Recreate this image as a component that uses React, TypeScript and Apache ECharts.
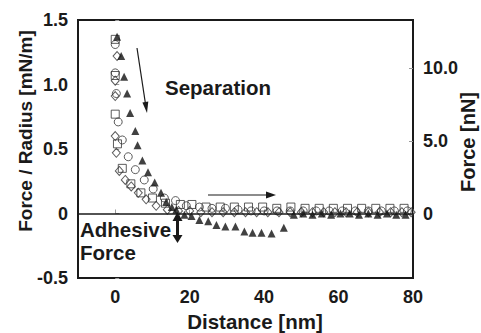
import React, { useEffect, useRef } from "react";
import * as echarts from "echarts";

const xTicks = [0, 20, 40, 60, 80];
const leftTicks = [-0.5, 0, 0.5, 1.0, 1.5];
const rightTicks = [0, 5, 10];

const triangles: [number, number][] = [
  [0.5, 1.37], [1.6, 1.22], [2.4, 1.06], [3.2, 0.93], [4.0, 0.78], [5.4, 0.64],
  [6.0, 0.53], [7.3, 0.41], [8.8, 0.32], [10.6, 0.24], [12.3, 0.16], [13.7, 0.09],
  [15.2, 0.05], [16.4, 0.03], [18.6, -0.01], [20.5, -0.02], [22.6, -0.05], [25.0, -0.06],
  [27.2, -0.09], [29.6, -0.1], [32.3, -0.1], [34.7, -0.14], [36.9, -0.15], [39.3, -0.15],
  [42.0, -0.155], [45.3, -0.11], [48.0, -0.01], [50.5, 0], [53.0, -0.01], [55.5, 0],
  [58.0, -0.01], [60.5, 0], [63.0, 0], [65.5, -0.01], [68.0, 0], [70.5, -0.01],
  [73.0, 0], [75.5, -0.01], [78.0, -0.01],
];

const circles: [number, number][] = [
  [0, 1.31], [0, 1.09], [0.3, 0.93], [0.8, 0.71], [1.9, 0.57], [3.5, 0.44], [5.4, 0.34],
  [7.8, 0.26], [10.2, 0.19], [13.2, 0.12], [16.2, 0.1], [19.1, 0.06], [22.6, 0.05],
  [26.0, 0.04], [29.6, 0.04], [33.0, 0.03], [36.5, 0.02], [40.0, 0.02], [43.5, 0.02],
  [47.0, 0.02], [50.5, 0.02], [54.0, 0.02], [57.5, 0.02], [61.0, 0.02], [64.5, 0.02],
  [68.0, 0.02], [71.5, 0.02], [75.0, 0.02], [78.5, 0.02],
];

const squares: [number, number][] = [
  [0, 1.35], [0, 1.07], [0, 0.77], [0.6, 0.54], [1.9, 0.35], [4.2, 0.23], [6.9, 0.16],
  [10.0, 0.12], [13.5, 0.08], [17.5, 0.07], [20.6, 0.07], [24.4, 0.05], [28.2, 0.05],
  [32.0, 0.05], [35.8, 0.05], [39.6, 0.05], [43.4, 0.04], [47.2, 0.05], [51.0, 0.04],
  [54.8, 0.04], [58.6, 0.04], [62.4, 0.04], [66.2, 0.04], [70.0, 0.04], [73.8, 0.04],
  [77.6, 0.04],
];

const diamonds: [number, number][] = [
  [0.5, 1.22], [0, 1.03], [0, 0.91], [0, 0.6], [0.3, 0.47], [1.1, 0.33], [2.7, 0.26],
  [4.3, 0.21], [6.2, 0.16], [8.3, 0.11], [11.0, 0.06], [14.0, 0.03], [17.0, 0.02],
  [20.0, 0.02], [23.0, 0.01], [26.0, 0.01], [29.0, 0.01], [32.0, 0.01], [35.0, 0.01],
  [38.0, 0.01], [41.0, 0.01], [44.0, 0.01], [47.0, 0.01], [50.0, 0.01], [53.0, 0.01],
  [56.0, 0.01], [59.0, 0.01], [62.0, 0.01], [65.0, 0.01], [68.0, 0.01], [71.0, 0.01],
  [74.0, 0.01], [77.0, 0.01], [79.5, 0.01],
];

const FONT = "'Liberation Sans', Arial, sans-serif";
const INK = "#1a1a1a";

export default function App() {
  const ref = useRef<HTMLDivElement>(null);
  useEffect(() => {
    if (!ref.current) return;
    const chart = echarts.init(ref.current, null, { renderer: "svg" });
    const labelStyle = { fontFamily: FONT, fontWeight: "bold" as const, fontSize: 18, color: INK };
    const tick = { show: true, inside: true, length: 4, lineStyle: { color: "#999", width: 1 } };
    const openItem = { color: "rgba(0,0,0,0)", borderColor: "#333", borderWidth: 1 };
    const txt = (text: string, x: number, y: number, size: number, extra: any = {}) => ({
      type: "text",
      x,
      y,
      ...extra,
      style: {
        text,
        font: `bold ${size}px ${FONT}`,
        fill: INK,
        align: extra.align || "left",
        verticalAlign: "middle",
      },
    });
    chart.setOption({
      animation: false,
      backgroundColor: "#fff",
      grid: {
        left: 78, right: 68, top: 20, bottom: 55,
        show: true, borderColor: INK, borderWidth: 2, backgroundColor: "transparent",
      },
      xAxis: {
        type: "value", min: -10, max: 80, position: "bottom",
        axisLine: { show: false }, splitLine: { show: false },
        axisTick: { ...tick, customValues: xTicks },
        axisLabel: { ...labelStyle, margin: 10, customValues: xTicks },
      },
      yAxis: [
        {
          type: "value", min: leftTicks[0], max: leftTicks[leftTicks.length - 1], interval: 0.5,
          position: "left",
          axisLine: { show: false }, splitLine: { show: false },
          axisTick: tick,
          axisLabel: {
            ...labelStyle, margin: 10,
            formatter: (v: number) => (Math.abs(v) < 1e-9 ? "0" : v.toFixed(1)),
          },
        },
        {
          type: "value", min: -4.38, max: 13.29, position: "right",
          axisLine: { show: false }, splitLine: { show: false },
          axisTick: { ...tick, customValues: rightTicks },
          axisLabel: {
            ...labelStyle, margin: 10, customValues: rightTicks,
            formatter: (v: number) => (Math.abs(v) < 1e-9 ? "0" : v.toFixed(1)),
          },
        },
      ],
      series: [
        {
          type: "scatter", data: diamonds, symbol: "diamond", symbolSize: [8, 9],
          itemStyle: openItem, yAxisIndex: 0,
          markLine: {
            silent: true, symbol: "none", label: { show: false },
            lineStyle: { color: INK, width: 1.5, type: "solid" },
            data: [{ yAxis: 0 }],
          },
        },
        { type: "scatter", data: circles, symbol: "circle", symbolSize: 8, itemStyle: openItem, yAxisIndex: 0 },
        { type: "scatter", data: squares, symbol: "rect", symbolSize: 8, itemStyle: openItem, yAxisIndex: 0 },
        { type: "scatter", data: triangles, symbol: "triangle", symbolSize: 8, itemStyle: { color: "#111" }, yAxisIndex: 0 },
      ],
      graphic: [
        txt("Force / Radius [mN/m]", 25, 131, 19, { rotation: Math.PI / 2, align: "center" }),
        txt("Force [nN]", 468, 142, 20, { rotation: Math.PI / 2, align: "center" }),
        txt("Distance [nm]", 255, 321, 20.5, { align: "center" }),
        txt("Separation", 165, 87, 20.5),
        txt("Adhesive", 80, 229, 20.5),
        txt("Force", 80, 252, 20.5),
        { type: "line", shape: { x1: 137, y1: 48, x2: 145.5, y2: 104 }, style: { stroke: INK, lineWidth: 1.2 } },
        { type: "polygon", shape: { points: [[147, 113], [148.3, 101.6], [142.4, 102.6]] }, style: { fill: INK } },
        { type: "line", shape: { x1: 208, y1: 195, x2: 268, y2: 195 }, style: { stroke: INK, lineWidth: 1.2 } },
        { type: "polygon", shape: { points: [[276, 195], [266, 191.5], [266, 198.5]] }, style: { fill: INK } },
        { type: "rect", shape: { x: 176, y: 219, width: 3, height: 18 }, style: { fill: INK } },
        { type: "polygon", shape: { points: [[177.5, 212], [172.5, 221], [182.5, 221]] }, style: { fill: INK } },
        { type: "polygon", shape: { points: [[177.5, 243], [172.5, 235], [182.5, 235]] }, style: { fill: INK } },
      ],
    });
    return () => chart.dispose();
  }, []);
  return (
    <div
      ref={ref}
      style={{ position: "fixed", left: 0, top: 0, width: 481, height: 333, background: "#fff" }}
    />
  );
}
